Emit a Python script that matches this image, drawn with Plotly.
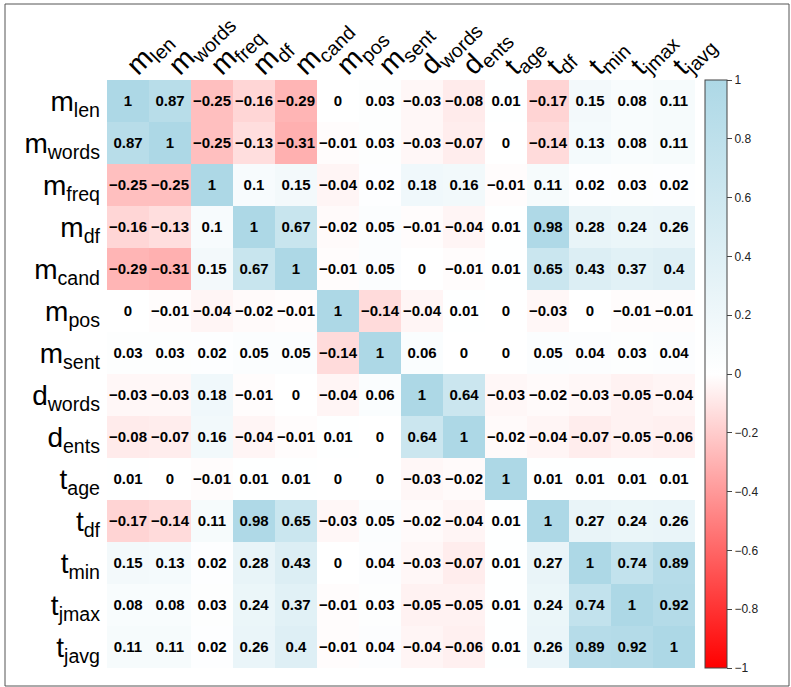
import plotly.graph_objects as go

labels = ["m<sub>len</sub>", "m<sub>words</sub>", "m<sub>freq</sub>", "m<sub>df</sub>",
          "m<sub>cand</sub>", "m<sub>pos</sub>", "m<sub>sent</sub>", "d<sub>words</sub>",
          "d<sub>ents</sub>", "t<sub>age</sub>", "t<sub>df</sub>", "t<sub>min</sub>",
          "t<sub>jmax</sub>", "t<sub>javg</sub>"]

r_mlen   = [1, 0.87, -0.25, -0.16, -0.29, 0, 0.03, -0.03, -0.08, 0.01, -0.17, 0.15, 0.08, 0.11]
r_mwords = [0.87, 1, -0.25, -0.13, -0.31, -0.01, 0.03, -0.03, -0.07, 0, -0.14, 0.13, 0.08, 0.11]
r_mfreq  = [-0.25, -0.25, 1, 0.1, 0.15, -0.04, 0.02, 0.18, 0.16, -0.01, 0.11, 0.02, 0.03, 0.02]
r_mdf    = [-0.16, -0.13, 0.1, 1, 0.67, -0.02, 0.05, -0.01, -0.04, 0.01, 0.98, 0.28, 0.24, 0.26]
r_mcand  = [-0.29, -0.31, 0.15, 0.67, 1, -0.01, 0.05, 0, -0.01, 0.01, 0.65, 0.43, 0.37, 0.4]
r_mpos   = [0, -0.01, -0.04, -0.02, -0.01, 1, -0.14, -0.04, 0.01, 0, -0.03, 0, -0.01, -0.01]
r_msent  = [0.03, 0.03, 0.02, 0.05, 0.05, -0.14, 1, 0.06, 0, 0, 0.05, 0.04, 0.03, 0.04]
r_dwords = [-0.03, -0.03, 0.18, -0.01, 0, -0.04, 0.06, 1, 0.64, -0.03, -0.02, -0.03, -0.05, -0.04]
r_dents  = [-0.08, -0.07, 0.16, -0.04, -0.01, 0.01, 0, 0.64, 1, -0.02, -0.04, -0.07, -0.05, -0.06]
r_tage   = [0.01, 0, -0.01, 0.01, 0.01, 0, 0, -0.03, -0.02, 1, 0.01, 0.01, 0.01, 0.01]
r_tdf    = [-0.17, -0.14, 0.11, 0.98, 0.65, -0.03, 0.05, -0.02, -0.04, 0.01, 1, 0.27, 0.24, 0.26]
r_tmin   = [0.15, 0.13, 0.02, 0.28, 0.43, 0, 0.04, -0.03, -0.07, 0.01, 0.27, 1, 0.74, 0.89]
r_tjmax  = [0.08, 0.08, 0.03, 0.24, 0.37, -0.01, 0.03, -0.05, -0.05, 0.01, 0.24, 0.74, 1, 0.92]
r_tjavg  = [0.11, 0.11, 0.02, 0.26, 0.4, -0.01, 0.04, -0.04, -0.06, 0.01, 0.26, 0.89, 0.92, 1]

z = [r_mlen, r_mwords, r_mfreq, r_mdf, r_mcand, r_mpos, r_msent,
     r_dwords, r_dents, r_tage, r_tdf, r_tmin, r_tjmax, r_tjavg]

cb_ticks = [-1, -0.8, -0.6, -0.4, -0.2, 0, 0.2, 0.4, 0.6, 0.8, 1]


def fmt(v):
    s = ("%.2f" % abs(v)).rstrip("0").rstrip(".")
    if s == "":
        s = "0"
    return ("\u2212" + s) if v < 0 and s != "0" else s


text = [[fmt(v) for v in row] for row in z]
cb_text = [fmt(v) for v in cb_ticks]

W, H = 791, 687
L, R, T, B = 107, 96, 80, 19
pw, ph = W - L - R, H - T - B

FONT = "Liberation Sans, Arial, Helvetica, sans-serif"

fig = go.Figure(go.Heatmap(
    z=z, x=labels, y=labels, text=text,
    texttemplate="<b>%{text}</b>",
    textfont=dict(family=FONT, size=15, color="black"),
    colorscale=[[0, "#ff0000"], [0.5, "#ffffff"], [1, "#add8e6"]],
    zmin=-1, zmax=1,
    colorbar=dict(
        x=1, xanchor="left", xpad=10, xref="paper",
        y=0.5, yanchor="middle", len=1.0, lenmode="fraction",
        thickness=22, thicknessmode="pixels",
        outlinecolor="#444", outlinewidth=1,
        tickvals=cb_ticks, ticktext=cb_text,
        ticks="outside", ticklen=5, tickcolor="#444",
        tickfont=dict(family=FONT, size=12, color="#222"),
        ypad=0,
    ),
))

fig.update_layout(
    width=W, height=H,
    margin=dict(l=L, r=R, t=T, b=B, autoexpand=False),
    paper_bgcolor="white", plot_bgcolor="white",
    xaxis=dict(side="top", tickangle=-45, showgrid=False, zeroline=False, ticks="",
               tickfont=dict(family=FONT, size=28, color="black"),
               ticklabelstandoff=-7),
    yaxis=dict(autorange="reversed", showgrid=False, zeroline=False, ticks="",
               tickfont=dict(family=FONT, size=28, color="black"),
               ticklabelstandoff=6),
    shapes=[dict(type="rect", xref="paper", yref="paper",
                 x0=(5 - L) / pw, x1=(789 - L) / pw,
                 y0=(H - B - 686) / ph, y1=(H - B - 4) / ph,
                 line=dict(color="#555", width=1), fillcolor="rgba(0,0,0,0)", layer="below")],
)

fig.write_html("out.html", config={"displayModeBar": False},
               post_script="document.body.style.margin='0';document.body.style.padding='0';")
